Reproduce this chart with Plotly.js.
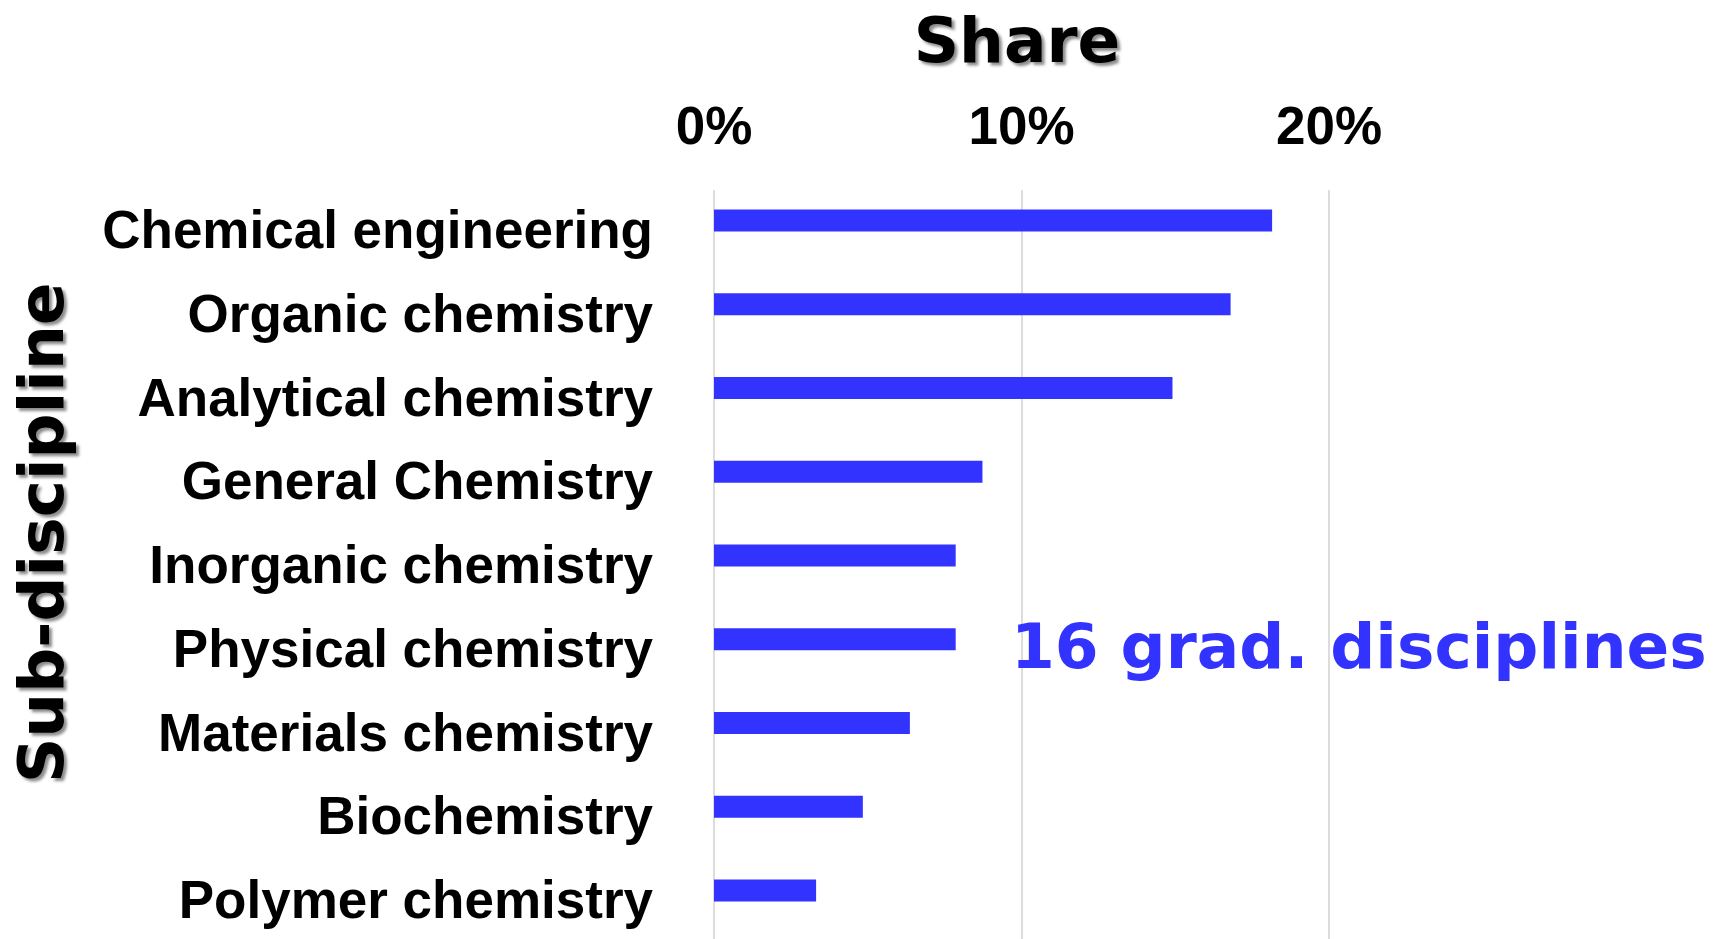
<!DOCTYPE html>
<html>
<head>
<meta charset="utf-8">
<script src="https://cdn.plot.ly/plotly-3.0.1.min.js"></script>
<style>html,body{margin:0;padding:0;background:#fff;}#chart{width:1714px;height:939px;}</style>
</head>
<body>
<div id="chart"></div>
<script>
const categories = ["Chemical engineering","Organic chemistry","Analytical chemistry","General Chemistry","Inorganic chemistry","Physical chemistry","Materials chemistry","Biochemistry","Polymer chemistry"];
const shares = [0.1815, 0.168, 0.1491, 0.0873, 0.0786, 0.0786, 0.0637, 0.0484, 0.0332];
const xTickVals = [0, 0.1, 0.2];
const xTickText = ["0%","10%","20%"];
const xTitle = "Share";
const yTitle = "Sub-discipline";
const noteText = "16 grad. disciplines";

const blue = "#3333FF";
const shadow = "3px 3px 3px rgba(0,0,0,0.45)";

const trace = {
  type: "bar",
  orientation: "h",
  y: categories,
  x: shares,
  width: 0.263,
  marker: {color: blue, line: {width: 0}},
  hoverinfo: "skip"
};

const layout = {
  width: 1714, height: 939,
  margin: {l: 714, r: 138.5, t: 190, b: 0, pad: 0},
  paper_bgcolor: "#fff", plot_bgcolor: "#fff",
  showlegend: false,
  title: {
    text: xTitle,
    font: {family: "DejaVu Sans", size: 63, color: "#000", weight: "bold", shadow: shadow},
    x: 1017/1714, xref: "container", xanchor: "center",
    y: 1 - 40/939, yref: "container", yanchor: "middle"
  },
  xaxis: {
    side: "top",
    range: [0, 0.28],
    tickvals: xTickVals, ticktext: xTickText,
    tickfont: {family: "Liberation Sans", size: 53, color: "#000", weight: "bold"},
    showgrid: true, gridcolor: "#dcdcdc", gridwidth: 2,
    zeroline: true, zerolinecolor: "#dcdcdc", zerolinewidth: 2,
    showline: false, ticks: "",
    ticklabelstandoff: 34
  },
  yaxis: {
    type: "category",
    range: [8.58, -0.364],
    tickfont: {family: "Liberation Sans", size: 53, color: "#000", weight: "bold"},
    showgrid: false, zeroline: false, showline: false, ticks: "",
    ticklabelstandoff: 60,
    ticklabelshift: -9
  },
  annotations: [
    {
      text: yTitle, textangle: -90,
      xref: "paper", x: 0, xshift: 41 - 714, xanchor: "center",
      yref: "paper", y: (939 - 533) / 749, yanchor: "middle",
      showarrow: false,
      font: {family: "DejaVu Sans", size: 63, color: "#000", weight: "bold", shadow: "-3px 3px 3px rgba(0,0,0,0.45)"}
    },
    {
      text: noteText,
      xref: "paper", x: (1359 - 714) / 861.5, xanchor: "center",
      yref: "paper", y: (939 - 646) / 749, yanchor: "middle",
      showarrow: false,
      font: {family: "DejaVu Sans", size: 63, color: blue, weight: "bold"}
    }
  ]
};

Plotly.newPlot("chart", [trace], layout, {displayModeBar: false, staticPlot: true});
</script>
</body>
</html>
